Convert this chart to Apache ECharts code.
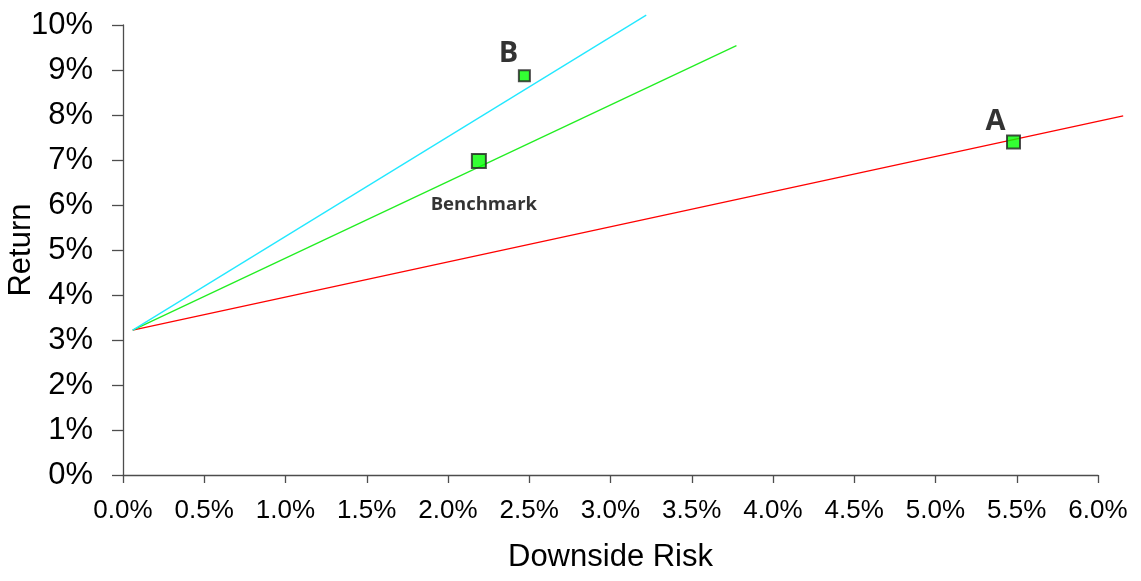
<!DOCTYPE html>
<html>
<head>
<meta charset="utf-8">
<script src="https://cdn.jsdelivr.net/npm/echarts@6/dist/echarts.min.js"></script>
<style>html,body{margin:0;padding:0;background:#fff}#c{width:1141px;height:581px}</style>
</head>
<body>
<div id="c"></div>
<script>
// Data (percent units)
const xTicks = [0, 0.5, 1, 1.5, 2, 2.5, 3, 3.5, 4, 4.5, 5, 5.5, 6];
const yTicks = [0, 1, 2, 3, 4, 5, 6, 7, 8, 9, 10];
const lineOrigin = [0.06, 3.22];
const redLineEnd = [6.155, 7.98];
const greenLineEnd = [3.775, 9.54];
const cyanLineEnd = [3.22, 10.22];
const pointNames = ['Benchmark', 'B', 'A'];
const pointX = [2.19, 2.47, 5.48];
const pointY = [6.98, 8.87, 7.40];

const labelStyles = {
  'Benchmark': { offset: [5, 44], fontSize: 18.5, size: 14 },
  'B': { offset: [-16, -22], fontSize: 29, size: 11 },
  'A': { offset: [-18, -20], fontSize: 29, size: 13 }
};

const chart = echarts.init(document.getElementById('c'), null, { renderer: 'canvas' });
const axisColor = '#4d4d4d';
const lineSeries = (end, color) => ({
  type: 'custom',
  coordinateSystem: 'cartesian2d',
  clip: false,
  silent: true,
  z: 2,
  encode: { x: [0, 2], y: [1, 3] },
  data: [[lineOrigin[0], lineOrigin[1], end[0], end[1]]],
  renderItem: (params, api) => {
    const p0 = api.coord([api.value(0), api.value(1)]);
    const p1 = api.coord([api.value(2), api.value(3)]);
    return {
      type: 'line',
      shape: { x1: p0[0], y1: p0[1], x2: p1[0], y2: p1[1] },
      style: { stroke: color, lineWidth: 1.3 }
    };
  }
});

chart.setOption({
  animation: false,
  backgroundColor: '#ffffff',
  grid: { left: 123, top: 25, right: 43, bottom: 106, containLabel: false, outerBoundsMode: 'none' },
  xAxis: {
    type: 'value',
    min: xTicks[0], max: xTicks[xTicks.length - 1], interval: 0.5,
    name: 'Downside Risk',
    nameLocation: 'middle',
    nameGap: 67,
    nameMoveOverlap: false,
    nameTextStyle: { fontFamily: 'Liberation Sans', fontSize: 31, color: '#000' },
    axisLine: { show: true, onZero: false, lineStyle: { color: axisColor, width: 1.3 } },
    axisTick: { show: true, inside: false, length: 8, lineStyle: { color: axisColor, width: 1.3 } },
    axisLabel: { margin: 23, fontFamily: 'Liberation Sans', fontSize: 26, color: '#000',
      formatter: v => v.toFixed(1) + '%' },
    splitLine: { show: false }
  },
  yAxis: {
    type: 'value',
    min: yTicks[0], max: yTicks[yTicks.length - 1], interval: 1,
    name: 'Return',
    nameLocation: 'middle',
    nameGap: 86,
    nameMoveOverlap: false,
    nameTextStyle: { fontFamily: 'Liberation Sans', fontSize: 31, color: '#000' },
    axisLine: { show: true, onZero: false, lineStyle: { color: axisColor, width: 1.3 } },
    axisTick: { show: true, inside: false, length: 11, lineStyle: { color: axisColor, width: 1.3 } },
    axisLabel: { margin: 30, fontFamily: 'Liberation Sans', fontSize: 31, color: '#000',
      formatter: v => v + '%' },
    splitLine: { show: false }
  },
  series: [
    lineSeries(redLineEnd, '#ff0000'),
    lineSeries(greenLineEnd, '#22ee22'),
    lineSeries(cyanLineEnd, '#22e8ff'),
    {
      type: 'scatter',
      z: 5,
      data: pointNames.map((n, i) => ({
        name: n,
        value: [pointX[i], pointY[i]],
        symbolSize: labelStyles[n].size,
        label: {
          show: true,
          formatter: n,
          position: 'inside',
          offset: labelStyles[n].offset,
          fontSize: labelStyles[n].fontSize,
          fontWeight: 'bold',
          fontFamily: 'Open Sans',
          color: '#000'
        }
      })),
      symbol: 'rect',
      itemStyle: { color: '#00ff00', borderColor: '#222', borderWidth: 2 }
    }
  ]
});
</script>
</body>
</html>
